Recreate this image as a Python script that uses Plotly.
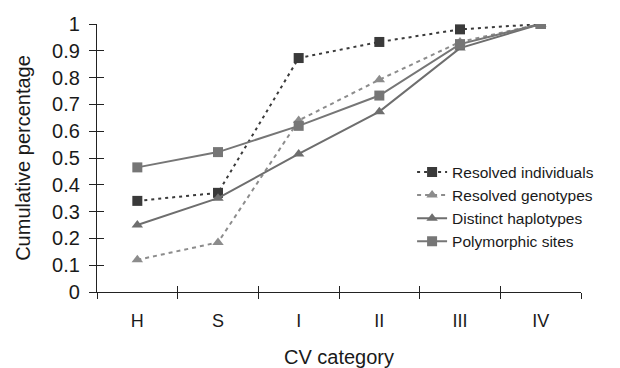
import plotly.graph_objects as go

categories = ["H", "S", "I", "II", "III", "IV"]
resolved_individuals = [0.34, 0.37, 0.873, 0.933, 0.98, 1.0]
resolved_genotypes = [0.12, 0.185, 0.64, 0.792, 0.933, 1.0]
distinct_haplotypes = [0.25, 0.35, 0.515, 0.673, 0.91, 1.0]
polymorphic_sites = [0.465, 0.522, 0.62, 0.733, 0.925, 1.0]
y_ticks = [0, 0.1, 0.2, 0.3, 0.4, 0.5, 0.6, 0.7, 0.8, 0.9, 1]
y_tick_text = ["0", "0.1", "0.2", "0.3", "0.4", "0.5", "0.6", "0.7", "0.8", "0.9", "1"]

FONT = "Liberation Sans, Arial, sans-serif"
AX = "#222222"
TXT = "#1a1a1a"

fig = go.Figure()
series = [
    ("Resolved individuals", resolved_individuals, "#3a3a3a", "3px,4px", "square"),
    ("Resolved genotypes", resolved_genotypes, "#8c8c8c", "4px,4px", "triangle-up"),
    ("Distinct haplotypes", distinct_haplotypes, "#6e6e6e", "solid", "triangle-up"),
    ("Polymorphic sites", polymorphic_sites, "#767676", "solid", "square"),
]
for name, vals, col, dash, sym in series:
    fig.add_trace(go.Scatter(
        x=categories, y=vals, name=name, mode="lines+markers",
        line=dict(color=col, width=2, dash=dash),
        marker=dict(symbol=sym, size=10, color=col),
        legendgroup=name,
    ))

fig.update_layout(
    width=612, height=360,
    margin=dict(l=89, r=39, t=16, b=76),
    paper_bgcolor="white", plot_bgcolor="white",
    font=dict(family=FONT, color=TXT),
    showlegend=True,
    legend=dict(x=0.651, y=0.51, xanchor="left", yanchor="top",
                font=dict(size=15.5, family=FONT, color=TXT),
                bgcolor="rgba(0,0,0,0)", tracegroupgap=0, itemwidth=30),
    xaxis=dict(
        type="category", categoryorder="array", categoryarray=categories,
        range=[-0.5, 5.5], tickson="boundaries", ticks="outside", ticklen=6,
        tickcolor=AX, showline=True, linecolor=AX, linewidth=1.3,
        showgrid=False, zeroline=False, automargin=False,
        ticklabelstandoff=12,
        tickfont=dict(size=18, family=FONT, color=TXT),
        title=dict(text="CV category", font=dict(size=20, family=FONT, color=TXT), standoff=21),
    ),
    yaxis=dict(
        range=[0, 1], tickvals=y_ticks, ticktext=y_tick_text,
        ticks="outside", ticklen=7, tickcolor=AX, showline=True, linecolor=AX, linewidth=1.3,
        showgrid=False, zeroline=False, automargin=False,
        ticklabelstandoff=5,
        tickfont=dict(size=20, family=FONT, color=TXT),
        title=dict(text="Cumulative percentage", font=dict(size=20, family=FONT, color=TXT), standoff=16),
    ),
    xaxis2=dict(
        type="category", categoryorder="array", categoryarray=categories,
        range=[-0.5, 5.5], tickson="boundaries", ticks="inside", ticklen=6,
        tickcolor=AX, overlaying="x", side="bottom", showticklabels=False,
        showgrid=False, zeroline=False, showline=False, automargin=False,
    ),
    yaxis2=dict(
        range=[0, 1], tickvals=y_ticks, ticks="inside", ticklen=7, tickcolor=AX,
        overlaying="y", side="left", showticklabels=False,
        showgrid=False, zeroline=False, showline=False, automargin=False,
    ),
)
# invisible helper trace so the overlay axes are drawn
fig.add_trace(go.Scatter(x=categories, y=resolved_individuals, xaxis="x2", yaxis="y2",
                         mode="markers", marker=dict(opacity=0), showlegend=False, hoverinfo="skip"))

fig.write_html("out.html")
